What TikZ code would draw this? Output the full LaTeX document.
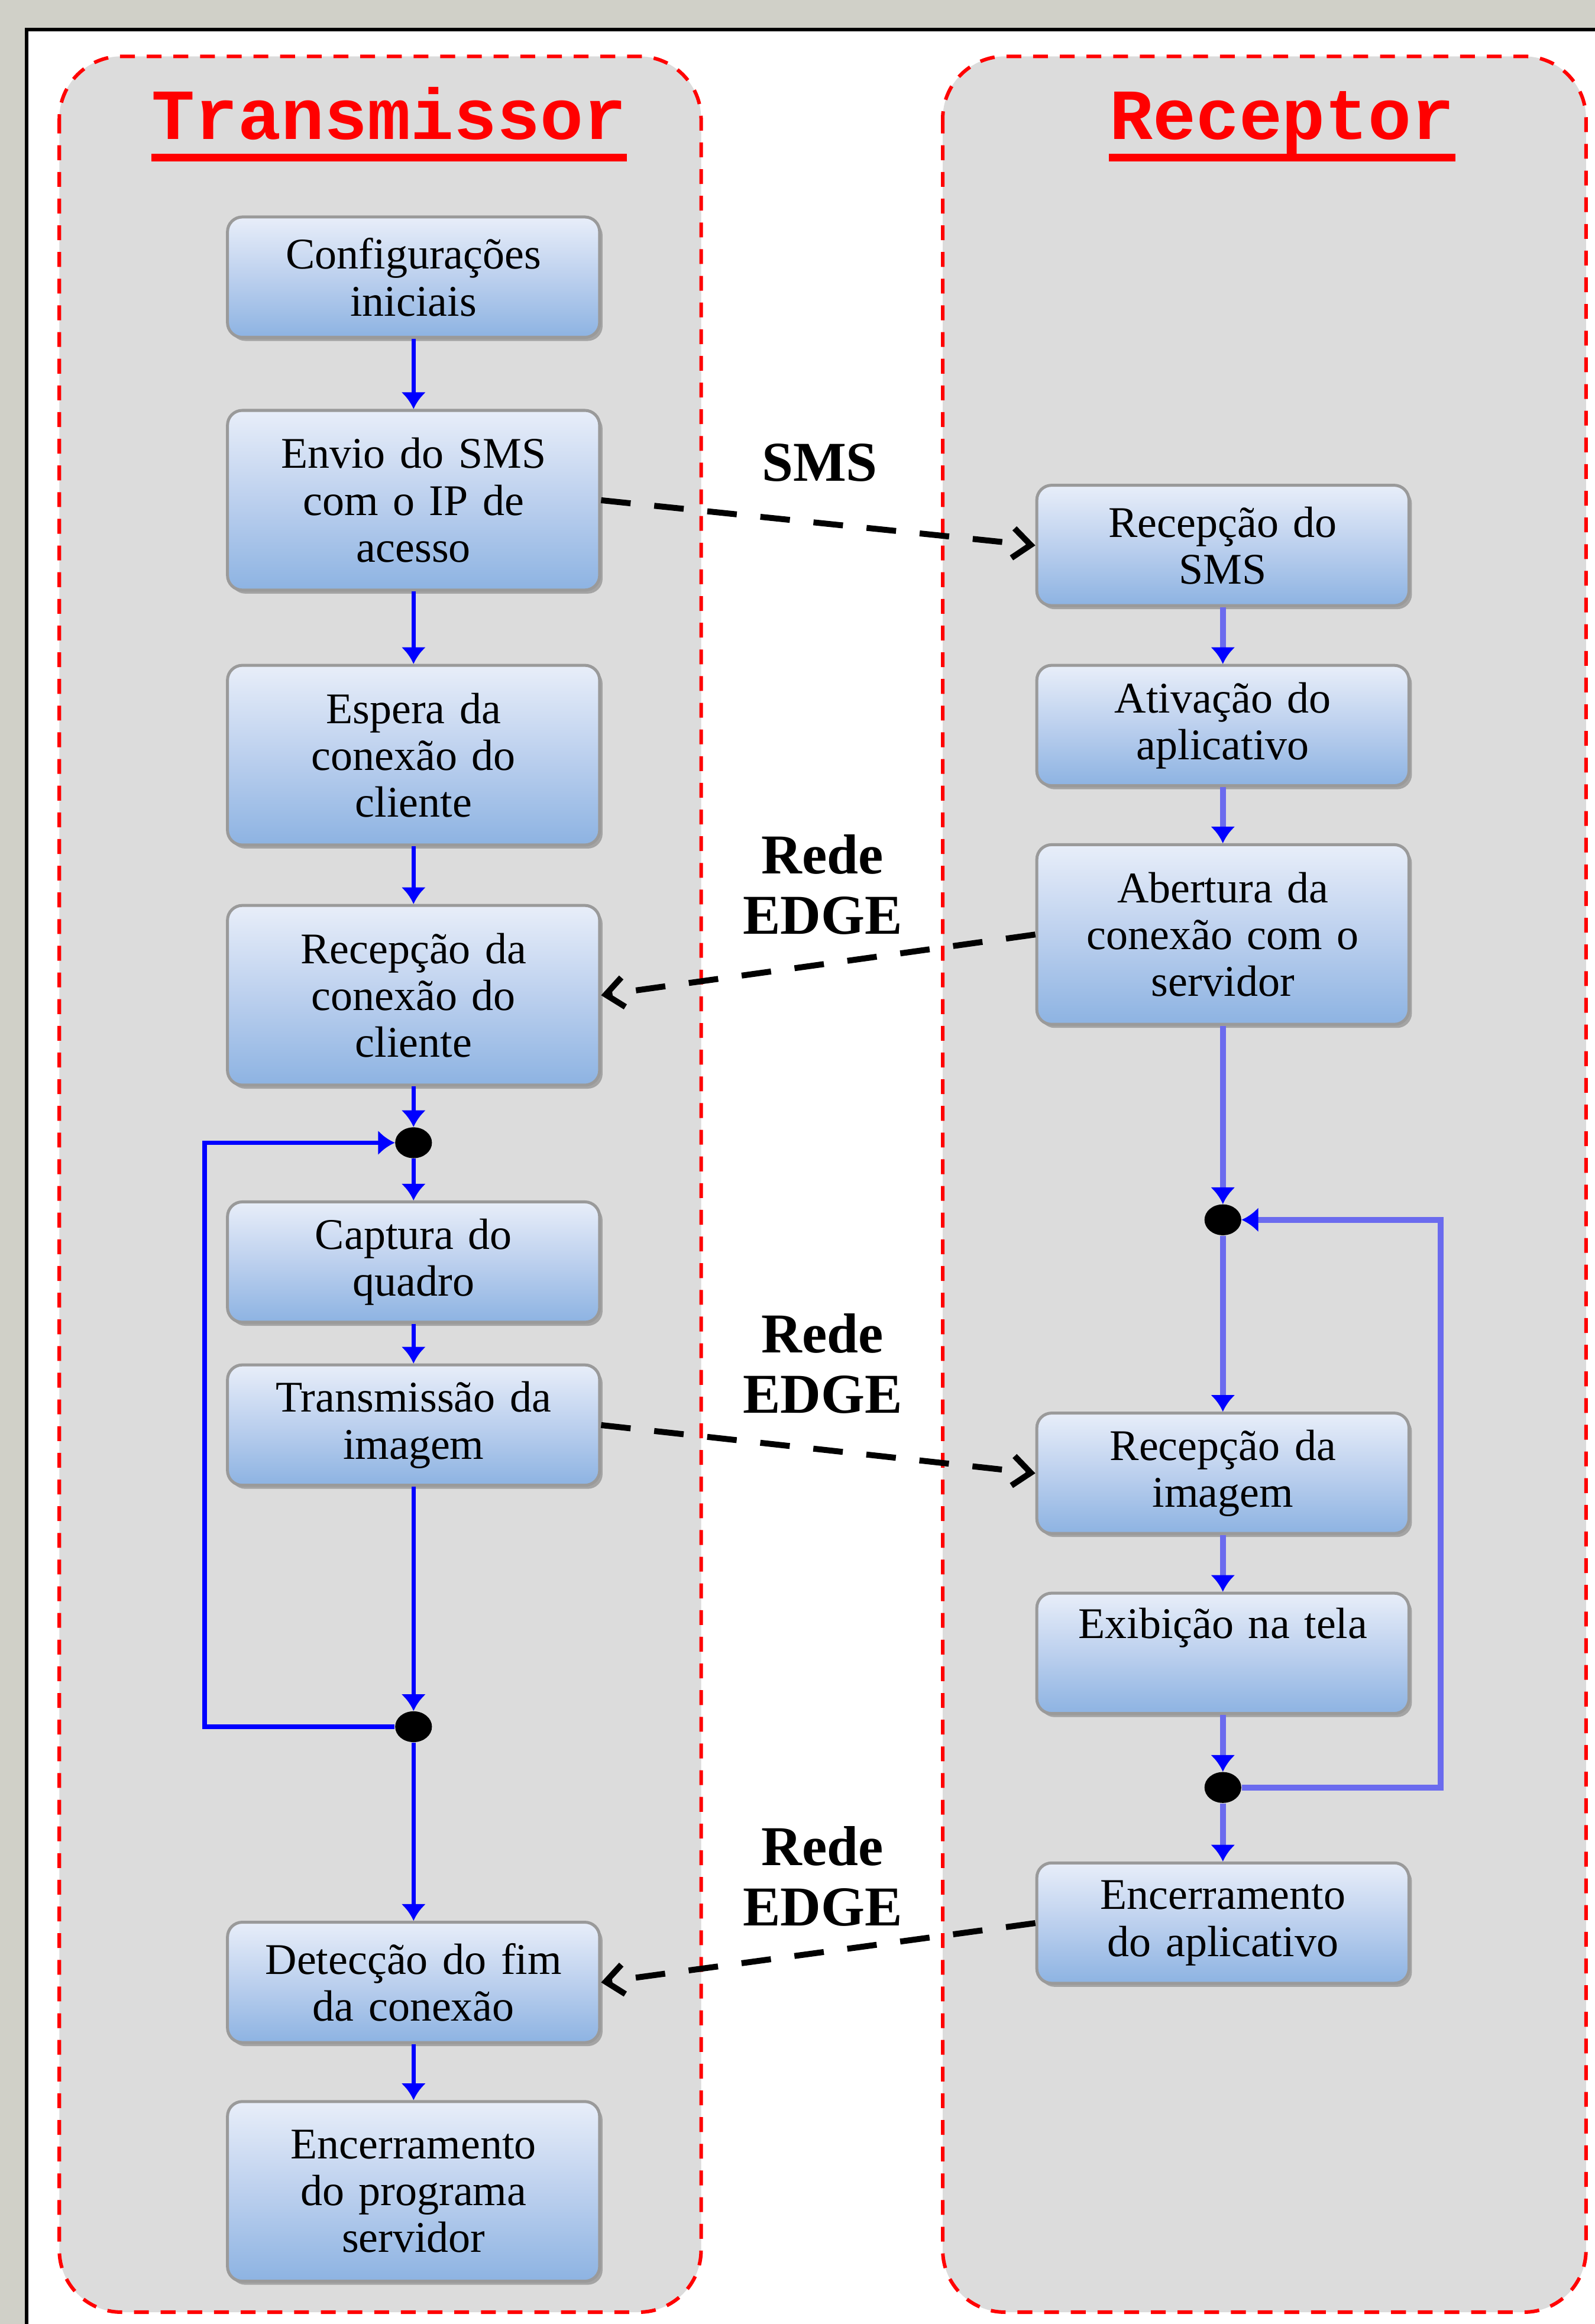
\documentclass[tikz,border=0pt]{standalone}
\usepackage{fontspec}
\setmainfont{Liberation Serif}
\newfontfamily\lanefont{Liberation Mono}
\usepackage{tikz}
\usetikzlibrary{positioning,arrows.meta,shapes.geometric,shadows}
\definecolor{pagegray}{HTML}{D0D0C8}
\definecolor{lanegray}{HTML}{DCDCDC}
\definecolor{boxtop}{HTML}{E8EEF9}
\definecolor{boxmid}{HTML}{BCD0EE}
\definecolor{boxbot}{HTML}{8DB3E2}
\definecolor{boxedge}{HTML}{9A9A9A}
\definecolor{flowblue}{HTML}{0000FF}
\definecolor{flowlight}{HTML}{6B6BEE}

\begin{document}
\begin{tikzpicture}[
    x=0.025cm, y=-0.025cm,
    lane/.style={draw=red, fill=lanegray, line width=0.06cm, dash pattern=on 0.25cm off 0.2cm, rounded corners=1.05cm},
    lanetitle/.style={font=\lanefont\bfseries\fontsize{34.5}{38}\selectfont, text=red, inner sep=0pt, anchor=base},
    box/.style={draw=boxedge, line width=0.05cm, rounded corners=0.25cm, top color=boxtop, bottom color=boxbot, middle color=boxmid,
        minimum width=6.275cm, minimum height=2.03cm, text width=6cm, align=center, inner sep=0pt,
        font=\fontsize{21}{22.5}\selectfont, drop shadow={shadow xshift=0.05cm, shadow yshift=-0.06cm, fill=black, opacity=0.25}},
    tallbox/.style={box, minimum height=3.03cm},
    dot/.style={ellipse, fill=black, minimum width=0.62cm, minimum height=0.52cm, inner sep=0pt},
    flow/.style={draw=flowblue, line width=0.075cm, -{Latex[length=0.28cm, width=0.42cm]}},
    flowr/.style={draw=flowlight, line width=0.1cm, -{Latex[length=0.28cm, width=0.42cm, color=flowblue]}},
    msg/.style={draw=black, line width=0.1cm, dash pattern=on 0.5cm off 0.4cm, -{Straight Barb[length=0.3cm, width=0.5cm]}},
    lbl/.style={font=\fontsize{27}{29}\selectfont\bfseries, align=center},
]

% === Page and frame ===
\useasboundingbox (0,0) rectangle (1076,1568);
\fill[pagegray] (0,0) rectangle (1076,1568);
\fill[white] (18,20) rectangle (1076,1568);
\draw[line width=0.06cm] (1076,20) -- (18,20) -- (18,1568);

% === Swimlanes ===
\draw[lane] (40,38) rectangle (473,1560);
\draw[lane] (636,38) rectangle (1070,1560);
\node[lanetitle] (ttx) at (262.5,94) {Transmissor};
\node[lanetitle] (trx) at (865,94) {Receptor};
\draw[red, line width=0.125cm] ([yshift=-0.31cm]ttx.base west) -- ([yshift=-0.31cm]ttx.base east);
\draw[red, line width=0.125cm] ([yshift=-0.31cm]trx.base west) -- ([yshift=-0.31cm]trx.base east);

% === Transmissor side ===
\node[box] (cfg) at (279,187) {Configurações\\iniciais};
\node[tallbox] (envio) at (279,337.5) {Envio do SMS\\com o IP de\\acesso};
\node[tallbox] (espera) at (279,509.5) {Espera da\\conexão do\\cliente};
\node[tallbox] (recconx) at (279,671.5) {Recepção da\\conexão do\\cliente};
\node[dot] (jn1) at (279,771) {};
\node[box] (captura) at (279,851.5) {Captura do\\quadro};
\node[box] (transm) at (279,961.5) {Transmissão da\\imagem};
\node[dot] (jn2) at (279,1165) {};
\node[box] (detec) at (279,1337.5) {Detecção do fim\\da conexão};
\node[tallbox] (encsrv) at (279,1478.5) {Encerramento\\do programa\\servidor};

\draw[flow] (cfg) -- (envio);
\draw[flow] (envio) -- (espera);
\draw[flow] (espera) -- (recconx);
\draw[flow] (recconx) -- (jn1);
\draw[flow] (jn1) -- (captura);
\draw[flow] (captura) -- (transm);
\draw[flow] (transm) -- (jn2);
\draw[flow] (jn2) -- (detec);
\draw[flow] (detec) -- (encsrv);
\draw[flow] (jn2) -- ++(-141,0) |- (jn1);

% === Receptor side ===
\node[box] (recsms) at (825,368) {Recepção do\\SMS};
\node[box] (ativ) at (825,489.5) {Ativação do\\aplicativo};
\node[tallbox] (abert) at (825,630.5) {Abertura da\\conexão com o\\servidor};
\node[dot] (jn3) at (825,823) {};
\node[box] (recimg) at (825,994) {Recepção da\\imagem};
\node[box] (exib) at (825,1115.5) {Exibição na tela\\\strut};
\node[dot] (jn4) at (825,1206) {};
\node[box] (encapp) at (825,1297.5) {Encerramento\\do aplicativo};

\draw[flowr] (recsms) -- (ativ);
\draw[flowr] (ativ) -- (abert);
\draw[flowr] (abert) -- (jn3);
\draw[flowr] (jn3) -- (recimg);
\draw[flowr] (recimg) -- (exib);
\draw[flowr] (exib) -- (jn4);
\draw[flowr] (jn4) -- (encapp);
\draw[flowr] (jn4) -- ++(147,0) |- (jn3);

% === Messages between the sides ===
\draw[msg] (envio.east) -- (recsms.west);
\draw[msg] (abert.west) -- (recconx.east);
\draw[msg] (transm.east) -- (recimg.west);
\draw[msg] (encapp.west) -- (detec.east);

\node[lbl] (lsms) at (553,312) {SMS};
\node[lbl] (ledge1) at (555,597) {Rede\\EDGE};
\node[lbl] (ledge2) at (555,920) {Rede\\EDGE};
\node[lbl] (ledge3) at (555,1266) {Rede\\EDGE};

\end{tikzpicture}
\end{document}
